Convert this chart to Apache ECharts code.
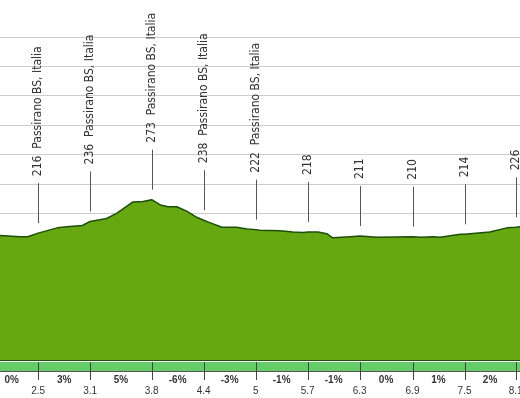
<!DOCTYPE html>
<html>
<head>
<meta charset="utf-8">
<script src="https://cdn.jsdelivr.net/npm/echarts@6/dist/echarts.min.js"></script>
<style>
html, body { margin: 0; padding: 0; background: #fff; }
#chart { width: 520px; height: 398px; }
</style>
</head>
<body>
<div id="chart"></div>
<script>
// elevation profile (km, m)
const profileKm = [2.06, 2.29, 2.38, 2.50, 2.72, 2.83, 3.01, 3.10, 3.29, 3.41, 3.59, 3.71, 3.81, 3.91, 4.00, 4.10, 4.22, 4.33, 4.41, 4.48, 4.62, 4.79, 4.91, 5.01, 5.06, 5.29, 5.44, 5.56, 5.61, 5.73, 5.83, 5.90, 6.10, 6.21, 6.41, 6.82, 6.91, 7.06, 7.14, 7.37, 7.42, 7.71, 7.91, 8.01, 8.06]
const profileElev = [212, 210, 210, 216, 225, 227, 229, 236, 241, 250, 269, 270, 273, 264, 261, 261, 253, 243, 238, 234, 226, 226, 223, 222, 221, 220, 218, 217, 218, 218, 215, 208, 210, 211, 209, 210, 209, 210, 209, 214, 214, 218, 225, 226, 227]

// waypoints
const markKm = [2.5, 3.1, 3.81, 4.41, 5.01, 5.61, 6.21, 6.82, 7.42, 8.01]
const markLabels = ['2.5', '3.1', '3.8', '4.4', '5', '5.7', '6.3', '6.9', '7.5', '8.1']
const markElev = [216, 236, 273, 238, 222, 218, 211, 210, 214, 226]
const markPlace = ['Passirano BS, Italia', 'Passirano BS, Italia', 'Passirano BS, Italia', 'Passirano BS, Italia', 'Passirano BS, Italia', '', '', '', '', '']

// gradient per segment (segment i ends at markKm[i])
const firstSegmentKm = 1.89
const grades = ['0%', '3%', '5%', '-6%', '-3%', '-1%', '-1%', '0%', '1%', '2%']

const XMIN = 2.06
const XMAX = 8.06

const segments = grades.map((g, i) => [i === 0 ? firstSegmentKm : markKm[i - 1], markKm[i]])

const chart = echarts.init(document.getElementById('chart'))

chart.setOption({
  animation: false,
  grid: [
    { left: 0, right: 0, top: 37, bottom: 38, outerBoundsMode: 'none' },
    { left: 0, right: 0, top: 362, height: 9, show: true, backgroundColor: '#66cc66', borderWidth: 0, outerBoundsMode: 'none' },
  ],
  xAxis: [
    {
      type: 'value', gridIndex: 0, min: XMIN, max: XMAX,
      axisLine: { show: true, lineStyle: { color: '#1d4f0b', width: 2 } },
      axisTick: { show: false },
      axisLabel: { show: false },
      splitLine: { show: false },
    },
    {
      type: 'value', gridIndex: 1, min: XMIN, max: XMAX,
      axisLine: { show: true, lineStyle: { color: '#555', width: 1 } },
      axisTick: { show: false },
      splitLine: { show: false },
      axisLabel: {
        customValues: markKm,
        margin: 15,
        color: '#333',
        fontSize: 10,
        fontFamily: 'Liberation Sans',
        formatter: (v) => markLabels[markKm.indexOf(v)] ?? '',
      },
    },
  ],
  yAxis: [
    {
      type: 'value', gridIndex: 0, min: 0, max: 550, interval: 50,
      axisLine: { show: false },
      axisTick: { show: false },
      axisLabel: { show: false },
      splitLine: { lineStyle: { color: '#cccccc', width: 1 } },
    },
    {
      type: 'value', gridIndex: 1, min: 0, max: 1, show: false,
      splitLine: { show: false },
    },
  ],
  series: [
    {
      type: 'line',
      xAxisIndex: 0, yAxisIndex: 0,
      data: profileKm.map((k, i) => [k, profileElev[i]]),
      symbol: 'none',
      lineStyle: { color: '#1d4f0b', width: 1.5 },
      areaStyle: { color: '#65a812', opacity: 1 },
      z: 2,
    },
    {
      type: 'custom',
      xAxisIndex: 0, yAxisIndex: 0,
      clip: false,
      data: markKm.map((k, i) => [k, markElev[i]]),
      renderItem: (params, api) => {
        const p = api.coord([api.value(0), api.value(1)])
        const x = Math.round(p[0]) + 0.5
        const i = params.dataIndex
        const label = markPlace[i] ? markElev[i] + '  ' + markPlace[i] : String(markElev[i])
        return {
          type: 'group',
          children: [
            { type: 'line', shape: { x1: x, y1: p[1] - 10, x2: x, y2: p[1] - 50 }, style: { stroke: '#555', lineWidth: 1 } },
            {
              type: 'text', x: x - 1, y: p[1] - 57, rotation: Math.PI / 2,
              style: { text: label, fill: '#333', font: "12px 'DejaVu Sans Condensed', 'DejaVu Sans'", align: 'left', verticalAlign: 'middle' },
            },
          ],
        }
      },
      z: 3,
    },
    {
      type: 'custom',
      xAxisIndex: 1, yAxisIndex: 1,
      clip: false,
      data: segments,
      renderItem: (params, api) => {
        const a = api.coord([api.value(0), 1])
        const b = api.coord([api.value(1), 0])
        const x = Math.round(b[0]) + 0.5
        return {
          type: 'group',
          children: [
            { type: 'line', shape: { x1: x, y1: a[1], x2: x, y2: b[1] + 9 }, style: { stroke: '#444', lineWidth: 1 } },
            {
              type: 'text', x: (a[0] + b[0]) / 2, y: b[1] + 9,
              style: { text: grades[params.dataIndex], fill: '#333', font: "bold 10px 'Liberation Sans'", align: 'center', verticalAlign: 'middle' },
            },
          ],
        }
      },
    },
  ],
})
</script>
</body>
</html>
